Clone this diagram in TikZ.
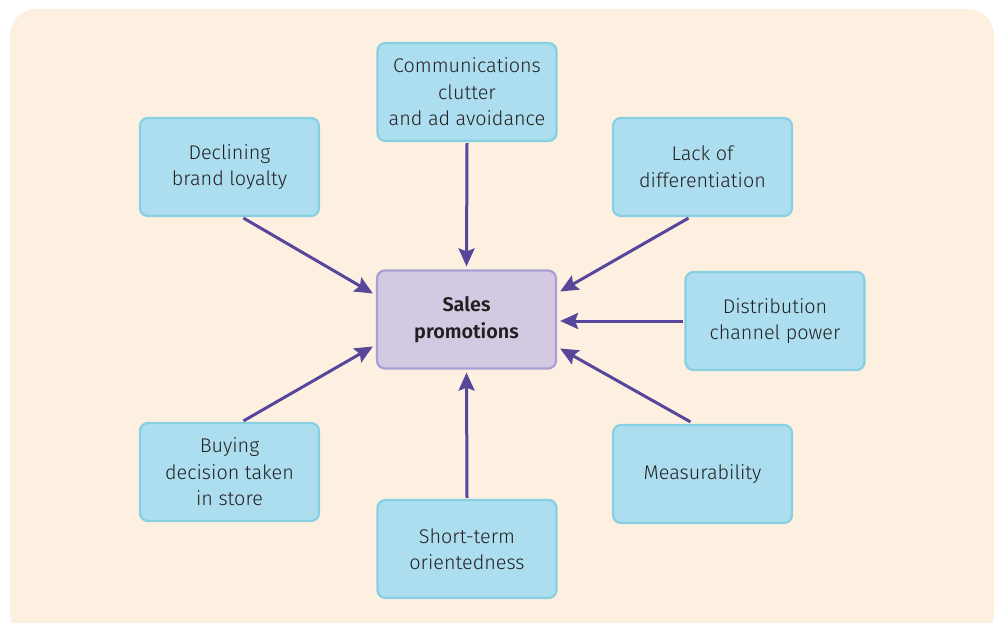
\documentclass[tikz,border=0pt]{standalone}
\usepackage{fontspec}
\setmainfont{Fira Sans}[UprightFont=* Light, BoldFont=* SemiBold]
\usetikzlibrary{arrows.meta}
\definecolor{bgc}{HTML}{FDF0E1}
\definecolor{boxfill}{HTML}{ADDEEF}
\definecolor{boxline}{HTML}{86D0E2}
\definecolor{cfill}{HTML}{D3C9E3}
\definecolor{cline}{HTML}{A8A0D4}
\definecolor{arrc}{HTML}{56479A}
\definecolor{txt}{HTML}{231F20}
\tikzset{
  factor/.style={draw=boxline, fill=boxfill, line width=2.2pt, rounded corners=8pt,
    minimum width=179pt, minimum height=98pt, align=center, text=txt,
    font=\fontsize{19.8}{26.5}\selectfont},
  central/.style={factor, draw=cline, fill=cfill, font=\fontsize{19.8}{26.5}\selectfont\bfseries},
  arr/.style={draw=arrc, line width=3pt, -{Stealth[length=18pt,width=16pt,inset=3pt]}}
}
\begin{document}
\begin{tikzpicture}[x=1pt,y=-1pt]
\useasboundingbox (0,0) rectangle (996,623);
\fill[bgc, rounded corners=26pt] (10,9) rectangle (994,640);
\node[factor] (comm) at (467,92) {Communications\\clutter\\and ad avoidance};
\node[factor] (decl) at (229.5,167) {Declining\\brand loyalty};
\node[factor] (lack) at (702.5,167) {Lack of\\differentiation};
\node[central] (sales) at (466.5,319.5) {Sales\\promotions};
\node[factor] (dist) at (775,321) {Distribution\\channel power};
\node[factor] (buy) at (229.5,472) {Buying\\decision taken\\in store};
\node[factor] (meas) at (702.5,474) {Measurability};
\node[factor] (short) at (467,549) {Short-term\\orientedness};
\draw[arr] ([yshift=-1pt]comm.south) -- ([yshift=3pt]sales.north);
\draw[arr] ([xshift=14pt,yshift=-1pt]decl.south) -- ([xshift=-3pt,yshift=26pt]sales.west);
\draw[arr] ([xshift=-14pt,yshift=-1pt]lack.south) -- ([xshift=3pt,yshift=28pt]sales.east);
\draw[arr] ([xshift=-1pt]dist.west) -- ([xshift=3pt,yshift=-1.5pt]sales.east);
\draw[arr] ([xshift=14pt,yshift=1pt]buy.north) -- ([xshift=-3pt,yshift=-27pt]sales.west);
\draw[arr] ([xshift=-12pt,yshift=2pt]meas.north) -- ([xshift=3pt,yshift=-29pt]sales.east);
\draw[arr] ([yshift=1pt]short.north) -- ([yshift=-3pt]sales.south);
\end{tikzpicture}
\end{document}
